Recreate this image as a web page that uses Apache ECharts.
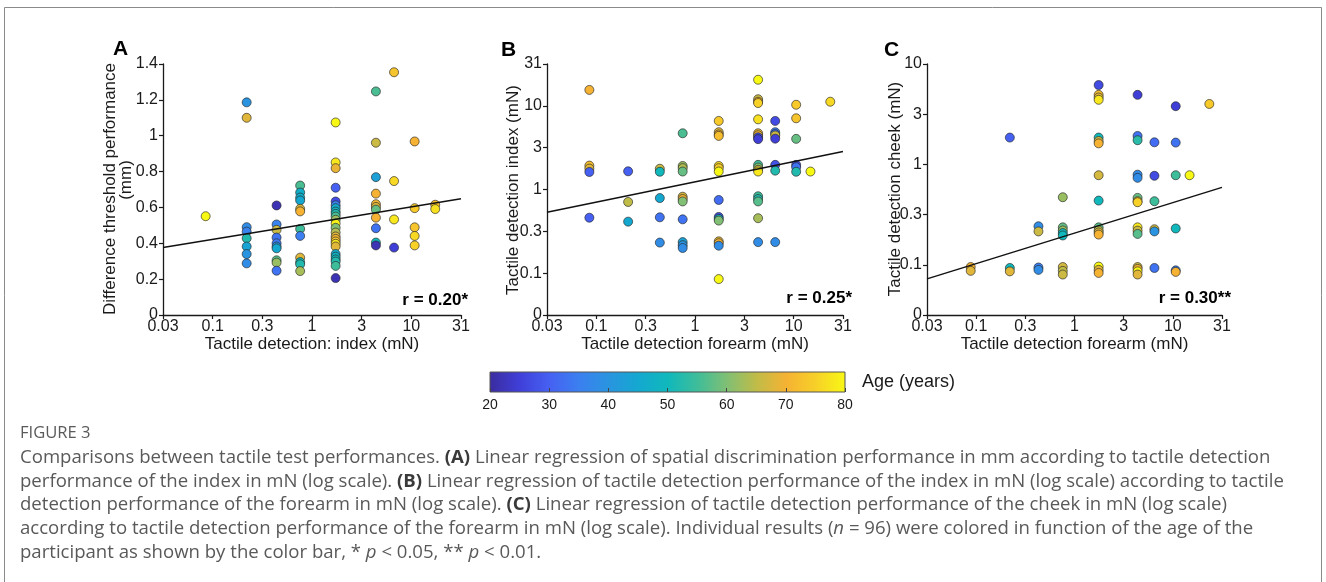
<!DOCTYPE html>
<html><head><meta charset="utf-8">
<script src="https://cdn.jsdelivr.net/npm/echarts@6/dist/echarts.min.js"></script>
<style>html,body{margin:0;padding:0;background:#fff;}#main{width:1326px;height:582px;}</style>
</head><body><div id="main"></div>
<script>
// ---------- tick labels ----------
const logTicks = [-1.5, -1, -0.5, 0, 0.5, 1, 1.5];
const xTickLabels = ['0.03', '0.1', '0.3', '1', '3', '10', '31'];
const yTickLabelsB = ['0', '0.1', '0.3', '1', '3', '10', '31'];
const yTickLabelsC = ['0', '0.1', '0.3', '1', '3', '10'];
const ageTicks = [20, 30, 40, 50, 60, 70, 80];

// ---------- Panel A: index detection (mN) vs difference threshold (mm) ----------
const aX = [0.085,
  0.22,0.22,0.22,0.22,0.22,0.22,0.22,0.22,
  0.44,0.44,0.44,0.44,0.44,0.44,0.44,0.44,0.44,0.44,
  0.76,0.76,0.76,0.76,0.76,0.76,0.76,0.76,0.76,0.76,0.76,0.76,
  1.73,1.73,1.73,1.73,1.73,1.73,1.73,1.73,1.73,1.73,1.73,1.73,1.73,1.73,1.73,1.73,1.73,1.73,1.73,1.73,1.73,1.73,1.73,1.73,1.73,
  4.4,4.4,4.4,4.4,4.4,4.4,4.4,4.4,4.4,4.4,4.4,
  6.7,6.7,6.7,6.7,
  10.8,10.8,10.8,10.8,10.8,
  17.4,17.4];
const aY = [0.551,
  1.186,1.10,0.490,0.465,0.428,0.382,0.340,0.288,
  0.611,0.505,0.475,0.432,0.400,0.382,0.372,0.305,0.292,0.247,
  0.722,0.683,0.655,0.639,0.592,0.578,0.480,0.441,0.320,0.295,0.283,0.245,
  1.074,0.851,0.819,0.710,0.633,0.612,0.596,0.577,0.564,0.549,0.531,0.510,0.486,0.460,0.438,0.424,0.410,0.397,0.382,0.340,0.325,0.310,0.298,0.274,0.206,
  1.247,0.961,0.769,0.677,0.618,0.603,0.588,0.543,0.484,0.404,0.388,
  1.354,0.747,0.533,0.376,
  0.968,0.596,0.489,0.441,0.388,
  0.615,0.591];
const aAge = [80,
  40,68,38,36,52,44,40,38,
  22,36,66,33,34,40,45,57,62,33,
  56,47,47,45,67,70,55,35,68,50,52,63,
  80,78,69,30,27,36,46,48,52,56,62,79,60,64,68,71,73,78,68,46,48,50,52,55,22,
  56,66,43,70,71,68,58,70,33,50,22,
  73,76,78,25,
  70,74,73,76,75,
  72,77];

// ---------- Panel B: forearm detection (mN) vs index detection (mN) ----------
const bX = [0.085,0.085,0.085,0.085,0.085,
  0.21,0.21,0.21,
  0.44,0.44,0.44,0.44,0.44,
  0.75,0.75,0.75,0.75,0.75,0.75,0.75,0.75,0.75,0.75,0.75,
  1.74,1.74,1.74,1.74,1.74,1.74,1.74,1.74,1.74,1.74,1.74,1.74,1.74,1.74,1.74,
  4.36,4.36,4.36,4.36,4.36,4.36,4.36,4.36,4.36,4.36,4.36,4.36,4.36,4.36,4.36,4.36,4.36,4.36,
  6.5,6.5,6.5,6.5,6.5,6.5,6.5,6.5,
  10.6,10.6,10.6,10.6,10.6,10.6,
  14.8,
  23.5];
const bY = [15.5,1.93,1.78,1.62,0.46,
  1.65,0.71,0.413,
  1.77,1.63,0.79,0.465,0.232,
  4.7,1.91,1.80,1.64,0.82,0.77,0.72,0.44,0.235,0.216,0.20,
  6.6,4.84,4.55,4.37,1.91,1.80,1.64,0.75,0.47,0.445,0.425,0.24,0.228,0.213,0.085,
  20.5,12.0,11.2,10.8,6.9,4.7,4.45,4.2,4.0,1.97,1.83,1.72,1.64,0.83,0.77,0.72,0.454,0.235,
  6.6,4.84,4.6,4.42,4.05,1.97,1.68,0.235,
  10.3,7.1,4.03,1.97,1.85,1.63,
  1.64,
  11.2];
const bAge = [70,72,68,30,30,
  30,65,45,
  66,50,45,33,38,
  56,62,64,58,67,70,60,33,43,40,38,
  74,68,70,72,76,74,80,32,27,48,60,68,70,38,80,
  80,66,70,75,77,69,71,28,25,55,60,66,78,55,52,57,63,38,
  27,35,33,66,25,28,52,38,
  74,73,58,28,33,52,
  80,
  76];

// ---------- Panel C: forearm detection (mN) vs cheek detection (mN) ----------
const cX = [0.088,0.088,
  0.22,0.22,0.22,
  0.43,0.43,0.43,0.43,
  0.76,0.76,0.76,0.76,0.76,0.76,0.76,0.76,
  1.76,1.76,1.76,1.76,1.76,1.76,1.76,1.76,1.76,1.76,1.76,1.76,1.76,1.76,1.76,1.76,
  4.38,4.38,4.38,4.38,4.38,4.38,4.38,4.38,4.38,4.38,4.38,4.38,4.38,4.38,4.38,
  6.5,6.5,6.5,6.5,6.5,6.5,
  10.7,10.7,10.7,10.7,10.7,10.7,
  14.8,
  23.5];
const cY = [0.095,0.087,
  1.85,0.093,0.086,
  0.242,0.215,0.094,0.089,
  0.471,0.236,0.22,0.207,0.196,0.095,0.087,0.08,
  6.17,4.93,4.64,4.40,1.85,1.71,1.62,0.78,0.436,0.236,0.22,0.21,0.20,0.096,0.089,0.083,
  4.93,1.92,1.74,0.79,0.735,0.464,0.43,0.42,0.236,0.219,0.203,0.095,0.091,0.086,0.08,
  1.66,0.77,0.43,0.226,0.215,0.093,
  3.8,1.65,0.78,0.23,0.088,0.085,
  0.78,
  4.0];
const cAge = [70,68,
  30,50,68,
  38,66,35,38,
  62,58,62,50,50,67,65,66,
  27,72,68,78,50,66,70,67,50,57,65,67,70,80,68,70,
  25,33,53,38,38,58,68,75,78,66,57,66,70,80,68,
  32,27,55,66,40,33,
  25,33,55,50,35,70,
  80,
  74];

// ---------- regression lines (value at the two ends of the x range) ----------
const fitX = [0.03162, 31.62];
const fitAY = [0.376, 0.648];
const fitBY = [0.535, 2.84];
const fitCY = [0.0724, 0.59];
const rLabels = ['r = 0.20*', 'r = 0.25*', 'r = 0.30**'];

// ---------- colour map (parula-like), age 20..80 ----------
const ageColors = ['#3b2c9e','#3f3fd8','#4660f2','#3b7ff0','#2a94e0','#14a8d0','#10b8bc','#3ebd9a','#80bf74','#c0bc48','#f5b233','#f7d028','#f8f815'];

const captionLines = [
  'Comparisons between tactile test performances. {b|(A)} Linear regression of spatial discrimination performance in mm according to tactile detection',
  'performance of the index in mN (log scale). {b|(B)} Linear regression of tactile detection performance of the index in mN (log scale) according to tactile',
  'detection performance of the forearm in mN (log scale). {b|(C)} Linear regression of tactile detection performance of the cheek in mN (log scale)',
  'according to tactile detection performance of the forearm in mN (log scale). Individual results ({i|n} = 96) were colored in function of the age of the',
  'participant as shown by the color bar, * {i|p} < 0.05, ** {i|p} < 0.01.'
];

// ================= build =================
const L10 = Math.log10;
const ink = '#1a1a1a';
const FONT = 'Liberation Sans, Arial, Helvetica, sans-serif';
function tickLabel(labels) {
  return function (v) {
    const i = logTicks.findIndex(t => Math.abs(t - v) < 1e-9);
    return i >= 0 ? labels[i] : '';
  };
}
const grids = [
  {left: 163, top: 64, width: 298, height: 251},
  {left: 547, top: 64, width: 296, height: 251},
  {left: 927, top: 64, width: 295, height: 251},
  {left: 490, top: 372, width: 355, height: 20}
];
const axLine = {show: true, onZero: false, lineStyle: {color: ink, width: 1.3}};
const axTick = {show: true, length: 4, lineStyle: {color: ink, width: 1.2}};
const axLabel = {color: ink, fontSize: 16, fontFamily: FONT};
const xTitles = ['Tactile detection: index (mN)', 'Tactile detection forearm (mN)', 'Tactile detection forearm (mN)'];
const xAxes = [0, 1, 2].map(i => ({
  type: 'value', gridIndex: i, min: -1.5, max: 1.5, interval: 0.5,
  axisLine: axLine, axisTick: axTick, splitLine: {show: false},
  axisLabel: Object.assign({margin: 4, formatter: tickLabel(xTickLabels)}, axLabel),
  name: xTitles[i], nameLocation: 'middle', nameGap: 20,
  nameTextStyle: {color: ink, fontSize: 17, fontFamily: FONT}
}));
xAxes.push({type: 'value', gridIndex: 3, min: 20, max: 80, interval: 10, z: 10,
  axisLine: {show: false, onZero: false}, axisTick: {show: true, inside: true, length: 4, lineStyle: {color: '#444', width: 1}},
  splitLine: {show: false},
  axisLabel: {color: ink, fontSize: 14, fontFamily: FONT, margin: 6}});
const yAxes = [
  {type: 'value', gridIndex: 0, min: 0, max: 1.4, interval: 0.2,
   axisLine: axLine, axisTick: axTick, splitLine: {show: false},
   axisLabel: Object.assign({margin: 5}, axLabel)},
  {type: 'value', gridIndex: 1, min: -1.5, max: 1.5, interval: 0.5,
   axisLine: axLine, axisTick: axTick, splitLine: {show: false},
   axisLabel: Object.assign({margin: 5, formatter: tickLabel(yTickLabelsB)}, axLabel)},
  {type: 'value', gridIndex: 2, min: -1.5, max: 1, interval: 0.5,
   axisLine: axLine, axisTick: axTick, splitLine: {show: false},
   axisLabel: Object.assign({margin: 5, formatter: tickLabel(yTickLabelsC)}, axLabel)},
  {type: 'value', gridIndex: 3, min: 0, max: 1, show: false}
];

const ptStyle = {borderColor: 'rgba(35,35,35,0.8)', borderWidth: 0.8, opacity: 1};
function scatter(i, xs, ys, ages, logY) {
  return {type: 'scatter', xAxisIndex: i, yAxisIndex: i, symbolSize: 9, itemStyle: ptStyle,
    data: xs.map((x, k) => [L10(x), logY ? L10(ys[k]) : ys[k], ages[k]]), z: 3};
}
function fit(i, ys, logY) {
  return {type: 'line', xAxisIndex: i, yAxisIndex: i, symbol: 'none', silent: true, z: 4,
    lineStyle: {color: '#111', width: 1.5},
    data: fitX.map((x, k) => [L10(x), logY ? L10(ys[k]) : ys[k]])};
}
const series = [
  scatter(0, aX, aY, aAge, false),
  scatter(1, bX, bY, bAge, true),
  scatter(2, cX, cY, cAge, true),
  fit(0, fitAY, false), fit(1, fitBY, true), fit(2, fitCY, true),
  {type: 'custom', xAxisIndex: 3, yAxisIndex: 3, silent: true, z: 1,
   data: [[ageTicks[0], ageTicks[ageTicks.length - 1]]],
   renderItem: function (params, api) {
     const p0 = api.coord([api.value(0), 0]);
     const p1 = api.coord([api.value(1), 1]);
     return {type: 'rect',
       shape: {x: p0[0], y: p1[1], width: p1[0] - p0[0], height: p0[1] - p1[1]},
       style: {fill: new echarts.graphic.LinearGradient(0, 0, 1, 0,
         ageColors.map((c, k) => ({offset: k / (ageColors.length - 1), color: c}))),
         stroke: '#555', lineWidth: 1}};
   }}
];

// caption font fitted to the reference line width
const CAPF = 'Open Sans, Noto Sans, sans-serif';
const ctx = document.createElement('canvas').getContext('2d');
ctx.font = '100px ' + CAPF;
const plain2 = captionLines[1].replace(/\{[bi]\|([^}]*)\}/g, '$1');
const capSize = Math.min(19, 100 * 1262 / ctx.measureText(plain2).width);
const capColor = '#595959';
const rich = {
  b: {fontSize: capSize, fontFamily: CAPF, fontWeight: 'bold', fill: '#3a3a3a'},
  i: {fontSize: capSize, fontFamily: CAPF, fontStyle: 'italic', fill: capColor}
};
const capY = [458, 481.5, 505, 529, 553];

const graphics = [
  {type: 'rect', shape: {x: 4.5, y: 7.5, width: 1317, height: 700}, style: {fill: 'none', stroke: '#8a8a8a', lineWidth: 1}, silent: true},
  {type: 'text', x: 120.5, y: 49, style: {text: 'A', font: 'bold 21px ' + FONT, fill: '#000', align: 'center', verticalAlign: 'middle'}},
  {type: 'text', x: 508.5, y: 50, style: {text: 'B', font: 'bold 21px ' + FONT, fill: '#000', align: 'center', verticalAlign: 'middle'}},
  {type: 'text', x: 891.5, y: 50, style: {text: 'C', font: 'bold 21px ' + FONT, fill: '#000', align: 'center', verticalAlign: 'middle'}},
  {type: 'text', x: 110, y: 189, rotation: Math.PI / 2, style: {text: 'Difference threshold performance', font: '17px ' + FONT, fill: ink, align: 'center', verticalAlign: 'middle'}},
  {type: 'text', x: 126, y: 180, rotation: Math.PI / 2, style: {text: '(mm)', font: '17px ' + FONT, fill: ink, align: 'center', verticalAlign: 'middle'}},
  {type: 'text', x: 513, y: 190, rotation: Math.PI / 2, style: {text: 'Tactile detection index (mN)', font: '17px ' + FONT, fill: ink, align: 'center', verticalAlign: 'middle'}},
  {type: 'text', x: 895, y: 189, rotation: Math.PI / 2, style: {text: 'Tactile detection cheek (mN)', font: '17px ' + FONT, fill: ink, align: 'center', verticalAlign: 'middle'}},
  {type: 'text', x: 468, y: 300, style: {text: rLabels[0], font: 'bold 17px ' + FONT, fill: '#000', align: 'right', verticalAlign: 'middle'}},
  {type: 'text', x: 852, y: 298, style: {text: rLabels[1], font: 'bold 17px ' + FONT, fill: '#000', align: 'right', verticalAlign: 'middle'}},
  {type: 'text', x: 1231, y: 298, style: {text: rLabels[2], font: 'bold 17px ' + FONT, fill: '#000', align: 'right', verticalAlign: 'middle'}},
  {type: 'text', x: 862, y: 382, style: {text: 'Age (years)', font: '18px ' + FONT, fill: ink, align: 'left', verticalAlign: 'middle'}},
  {type: 'text', x: 20, y: 433, style: {text: 'FIGURE 3', font: (capSize - 2) + 'px ' + CAPF, fill: '#5a5a5a', align: 'left', verticalAlign: 'middle'}}
];
captionLines.forEach((t, k) => graphics.push({type: 'text', x: 20, y: capY[k],
  style: {text: t, fontSize: capSize, fontFamily: CAPF, fill: capColor, align: 'left', verticalAlign: 'middle', rich: rich}}));

const chart = echarts.init(document.getElementById('main'), null, {renderer: 'canvas'});
chart.setOption({
  backgroundColor: '#fff',
  animation: false,
  grid: grids,
  xAxis: xAxes,
  yAxis: yAxes,
  visualMap: {type: 'continuous', show: false, min: 20, max: 80, dimension: 2, seriesIndex: [0, 1, 2],
    inRange: {color: ageColors}},
  series: series,
  graphic: {elements: graphics}
});
</script></body></html>
